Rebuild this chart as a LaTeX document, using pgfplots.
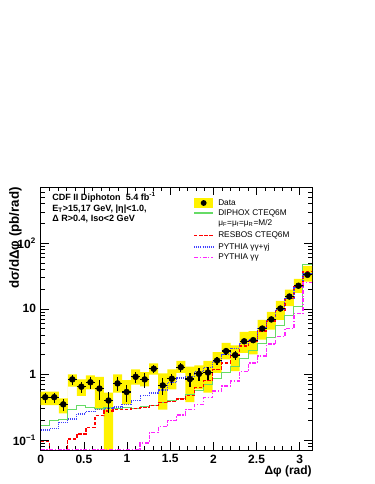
\documentclass[border=0pt]{standalone}
\usepackage{fontspec}
\setmainfont{Liberation Sans}
\usepackage{pgfplots}
\usepackage{pgfplotstable}
\usepgfplotslibrary{fillbetween}
\pgfplotsset{compat=1.18}

\definecolor{dgreen}{rgb}{0.40,0.86,0.40}
\definecolor{dblue}{rgb}{0.25,0.25,1.00}
\definecolor{dmag}{rgb}{1.00,0.15,1.00}
\tikzset{
  sgreen/.style={draw=dgreen, line width=0.8pt},
  sred/.style={draw=red, line width=1pt, dash pattern=on 2.6pt off 1.2pt},
  sblue/.style={draw=dblue, line width=0.9pt, dash pattern=on 0.8pt off 0.8pt},
  smag/.style={draw=dmag, line width=1pt, dash pattern=on 3pt off 1.2pt on 1pt off 1.2pt},
  leg/.style={anchor=west, inner sep=0pt, font=\fontsize{6.2}{7}\selectfont}}

% data points: bin centre, value, half bin width, stat error
\pgfplotstableread{
x      y     ex     ey
0.0524 0.45  0.0524 0.08
0.1571 0.45  0.0524 0.08
0.2618 0.35  0.0524 0.07
0.3665 0.84  0.0524 0.15
0.4712 0.65  0.0524 0.13
0.5760 0.76  0.0524 0.15
0.6807 0.61  0.0524 0.20
0.7854 0.40  0.0524 0.14
0.8901 0.73  0.0524 0.18
0.9948 0.54  0.0524 0.16
1.0996 0.92  0.0524 0.18
1.2043 0.84  0.0524 0.21
1.3090 1.22  0.0524 0.18
1.4137 0.68  0.0524 0.20
1.5184 0.86  0.0524 0.17
1.6232 1.29  0.0524 0.19
1.7279 0.85  0.0524 0.21
1.8326 1.02  0.0524 0.22
1.9373 1.07  0.0524 0.24
2.0420 1.63  0.0524 0.24
2.1468 2.27  0.0524 0.27
2.2515 1.97  0.0524 0.30
2.3562 3.20  0.0524 0.26
2.4609 3.33  0.0524 0.27
2.5656 5.00  0.0524 0.35
2.6704 6.90  0.0524 0.35
2.7751 10.1  0.0524 0.40
2.8798 15.4  0.0524 0.60
2.9845 22.5  0.0524 0.70
3.0892 33.0  0.0524 1.00
}\datatab

% step curves: left bin edge, syst. band low/high, predictions
\pgfplotstableread{
e      lo    hi     green  red    blue   mag
0.0000 0.34  0.545  0.169  0.094  0.142  0.071
0.1047 0.34  0.545  0.196  0.060  0.150  0.071
0.2094 0.255 0.43   0.208  0.060  0.185  0.071
0.3142 0.65  1.00   0.295  0.104  0.21   0.071
0.4189 0.47  0.84   0.339  0.123  0.25   0.071
0.5236 0.59  0.97   0.313  0.155  0.27   0.071
0.6283 0.29  0.92   0.300  0.234  0.29   0.071
0.7330 0.01  0.53   0.313  0.278  0.30   0.071
0.8378 0.53  1.00   0.300  0.29   0.32   0.071
0.9425 0.35  0.82   0.313  0.29   0.35   0.071
1.0472 0.70  1.19   0.300  0.30   0.40   0.071
1.1519 0.66  1.085  0.320  0.31   0.48   0.090
1.2566 0.99  1.47   0.340  0.34   0.52   0.130
1.3614 0.29  1.035  0.370  0.37   0.58   0.160
1.4661 0.59  1.19   0.400  0.39   0.75   0.200
1.5708 1.06  1.615  0.430  0.42   0.88   0.240
1.6755 0.38  1.31   0.490  0.48   0.94   0.290
1.7802 0.59  1.37   0.560  0.63   1.12   0.350
1.8850 0.53  1.615  0.700  0.80   1.29   0.440
1.9897 1.06  2.19   0.860  1.20   1.60   0.560
2.0944 1.69  3.04   1.06   1.50   2.00   0.670
2.1991 1.12  2.77   1.34   2.00   2.50   0.790
2.3038 2.14  4.47   1.73   2.70   3.00   1.12
2.4086 2.02  4.57   2.34   3.20   3.40   1.50
2.5133 3.40  6.80   3.00   4.60   5.10   1.90
2.6180 4.80  9.00   3.70   6.50   6.90   2.90
2.7227 6.80  13.2   5.50   9.50   9.80   3.80
2.8274 11.0  19.7   8.00   14.5   14.5   5.00
2.9322 17.5  28.5   11.0   22.0   21.0   8.50
3.0369 26.0  45.0   47.0   37.0   35.0   25.0
3.1416 26.0  45.0   47.0   37.0   35.0   25.0
}\steps

\begin{document}
\begin{tikzpicture}
\begin{axis}[name=ax, scale only axis, width=203.5pt, height=197.25pt,
  ymode=log, xmin=0, xmax=3.1416, ymin=0.0705, ymax=720,
  xtick={0,0.5,1,1.5,2,2.5,3}, minor x tick num=4,
  ytick={0.1,1,10,100},
  yticklabels={10\textsuperscript{−1},1,10,10\textsuperscript{2}},
  minor ytick={0.08,0.09,0.2,0.3,0.4,0.5,0.6,0.7,0.8,0.9,2,3,4,5,6,7,8,9,20,30,40,50,60,70,80,90,200,300,400,500,600,700},
  tick align=inside, major tick length=6pt, minor tick length=3pt,
  tick style={black, line width=0.5pt}, axis line style={line width=0.6pt},
  /pgf/number format/assume math mode=true,
  ticklabel style={font=\bfseries\fontsize{9}{10}\selectfont}]
\addplot[draw=none, name path=hi, const plot] table[x=e,y=hi]{\steps};
\addplot[draw=none, name path=lo, const plot] table[x=e,y=lo]{\steps};
\addplot[fill=yellow, draw=none] fill between[of=hi and lo];
\addplot[sgreen, const plot] table[x=e,y=green]{\steps};
\addplot[sred, const plot] table[x=e,y=red]{\steps};
\addplot[sblue, const plot] table[x=e,y=blue]{\steps};
\addplot[smag, const plot] table[x=e,y=mag]{\steps};
\addplot[only marks, mark=*, mark size=2.2pt, black,
  error bars/.cd, x dir=both, x explicit, y dir=both, y explicit,
  error mark=none, error bar style={line width=0.9pt, black}]
  table[x=x,y=y,x error=ex,y error=ey]{\datatab};
\end{axis}
% legend
\begin{scope}[shift={(ax.north west)}]
\fill[yellow] (115pt,-8.6pt) rectangle (129.5pt,-15.4pt);
\fill[black] (122.25pt,-12pt) circle (2.2pt);
\node[leg] at (133pt,-12pt) {Data};
\draw[sgreen] (115pt,-19.5pt) -- (129.5pt,-19.5pt);
\node[leg] at (133pt,-19.5pt) {DIPHOX CTEQ6M};
\node[leg] at (133pt,-27pt) {μ\textsubscript{F}=μ\textsubscript{f}=μ\textsubscript{R}=M/2};
\draw[sred] (115pt,-36.5pt) -- (129.5pt,-36.5pt);
\node[leg] at (133pt,-36.5pt) {RESBOS CTEQ6M};
\draw[sblue] (115pt,-45pt) -- (129.5pt,-45pt);
\node[leg] at (133pt,-45pt) {PYTHIA γγ+γj};
\draw[smag] (115pt,-53pt) -- (129.5pt,-53pt);
\node[leg] at (133pt,-53pt) {PYTHIA γγ};
\end{scope}
\node[anchor=north west, align=left, inner sep=0pt, font=\bfseries\fontsize{6.8}{7.6}\selectfont]
  at ([shift={(8.5pt,-4pt)}]ax.north west)
  {CDF II Diphoton\ \ 5.4 fb\textsuperscript{-1}\\E\textsubscript{T}>15,17 GeV, |η|<1.0,\\Δ R>0.4, Iso<2 GeV};
\node[rotate=90, anchor=south east, inner sep=0pt, font=\bfseries\fontsize{10}{11}\selectfont]
  at ([xshift=-14pt]ax.north west) {dσ/dΔφ (pb/rad)};
\node[anchor=north east, inner sep=0pt, font=\bfseries\fontsize{9}{10}\selectfont]
  at ([yshift=-12pt]ax.south east) {Δφ (rad)};
\pgfresetboundingbox
\path ([shift={(-30.5pt,-25.5pt)}]ax.south west) rectangle ([shift={(46.5pt,140.25pt)}]ax.north east);
\end{tikzpicture}
\end{document}
